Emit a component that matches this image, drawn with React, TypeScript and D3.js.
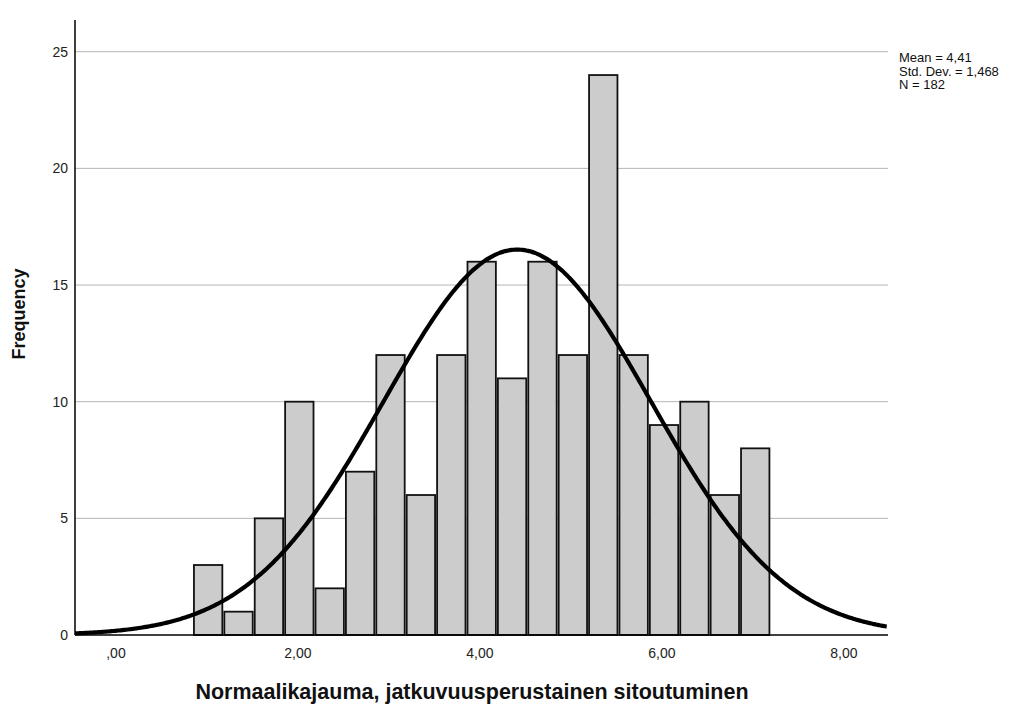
import React, { useEffect, useRef } from 'react'
import * as d3 from 'd3'

// histogram bins
const binStart = 0.846
const binWidth = 0.334
const counts = [3, 1, 5, 10, 2, 7, 12, 6, 12, 16, 11, 16, 12, 24, 12, 9, 10, 6, 8]

const yTicks = [0, 5, 10, 15, 20, 25]
const xTicks = [0, 2, 4, 6, 8]
const xTickLabels = [',00', '2,00', '4,00', '6,00', '8,00']

const mean = 4.41
const stdDev = 1.468
const n = 182
const statLines = ['Mean = 4,41', 'Std. Dev. = 1,468', 'N = 182']

const xTitle = 'Normaalikajauma, jatkuvuusperustainen sitoutuminen'
const yTitle = 'Frequency'

export default function App() {
  const ref = useRef<SVGSVGElement>(null)

  useEffect(() => {
    const width = 1016,
      height = 704
    const left = 75,
      right = 888,
      top = 20,
      bottom = 635
    const font = "'Liberation Sans', Arial, sans-serif"

    const svg = d3.select(ref.current)
    svg.selectAll('*').remove()
    svg.attr('width', width).attr('height', height)

    const x = d3.scaleLinear().domain([-0.45, 8.484]).range([left, right])
    const y = d3.scaleLinear().domain([0, 26.36]).range([bottom, top])

    // gridlines
    svg
      .append('g')
      .selectAll('line')
      .data(yTicks.filter((d) => d > 0))
      .enter()
      .append('line')
      .attr('x1', left)
      .attr('x2', right)
      .attr('y1', (d) => y(d))
      .attr('y2', (d) => y(d))
      .attr('stroke', '#b4b4b4')
      .attr('stroke-width', 1)

    // bars
    svg
      .append('g')
      .selectAll('rect')
      .data(counts)
      .enter()
      .append('rect')
      .attr('x', (d, i) => x(binStart + i * binWidth) + 1)
      .attr('width', (d, i) => x(binStart + (i + 1) * binWidth) - x(binStart + i * binWidth) - 2)
      .attr('y', (d) => y(d))
      .attr('height', (d) => y(0) - y(d))
      .attr('fill', '#cccccc')
      .attr('stroke', '#111')
      .attr('stroke-width', 1.8)

    // normal curve
    const scale = (n * binWidth) / (stdDev * Math.sqrt(2 * Math.PI))
    const pts = d3.range(-0.45, 8.49, 0.02).map((v) => [v, scale * Math.exp(-0.5 * ((v - mean) / stdDev) ** 2)])
    const line = d3
      .line<number[]>()
      .x((d) => x(d[0]))
      .y((d) => y(d[1]))
      .curve(d3.curveBasis)
    svg
      .append('path')
      .datum(pts)
      .attr('d', line)
      .attr('fill', 'none')
      .attr('stroke', '#000')
      .attr('stroke-width', 4.2)

    // axes
    svg
      .append('line')
      .attr('x1', left)
      .attr('x2', left)
      .attr('y1', top)
      .attr('y2', bottom)
      .attr('stroke', '#000')
      .attr('stroke-width', 1.5)
    svg
      .append('line')
      .attr('x1', left)
      .attr('x2', right)
      .attr('y1', bottom)
      .attr('y2', bottom)
      .attr('stroke', '#000')
      .attr('stroke-width', 1.5)

    svg
      .append('g')
      .selectAll('text')
      .data(yTicks)
      .enter()
      .append('text')
      .attr('x', left - 7)
      .attr('y', (d) => y(d) + 5)
      .attr('text-anchor', 'end')
      .style('font-family', font)
      .style('font-size', '14px')
      .attr('fill', '#222')
      .text((d) => d)

    svg
      .append('g')
      .selectAll('text')
      .data(xTicks)
      .enter()
      .append('text')
      .attr('x', (d) => x(d))
      .attr('y', 658)
      .attr('text-anchor', 'middle')
      .style('font-family', font)
      .style('font-size', '14px')
      .attr('fill', '#222')
      .text((d, i) => xTickLabels[i])

    svg
      .append('text')
      .attr('x', 472)
      .attr('y', 699)
      .attr('text-anchor', 'middle')
      .style('font-family', font)
      .style('font-size', '21.5px')
      .style('font-weight', 'bold')
      .attr('fill', '#111')
      .text(xTitle)

    svg
      .append('text')
      .attr('transform', `translate(25,314) rotate(-90)`)
      .attr('text-anchor', 'middle')
      .style('font-family', font)
      .style('font-size', '18px')
      .style('font-weight', 'bold')
      .attr('fill', '#111')
      .text(yTitle)

    // stats box text
    svg
      .append('g')
      .selectAll('text')
      .data(statLines)
      .enter()
      .append('text')
      .attr('x', 899)
      .attr('y', (d, i) => 62 + i * 13.5)
      .style('font-family', font)
      .style('font-size', '13px')
      .attr('fill', '#111')
      .text((d) => d)
  }, [])

  return <svg ref={ref} style={{ position: 'absolute', left: 0, top: 0, display: 'block' }} />
}
